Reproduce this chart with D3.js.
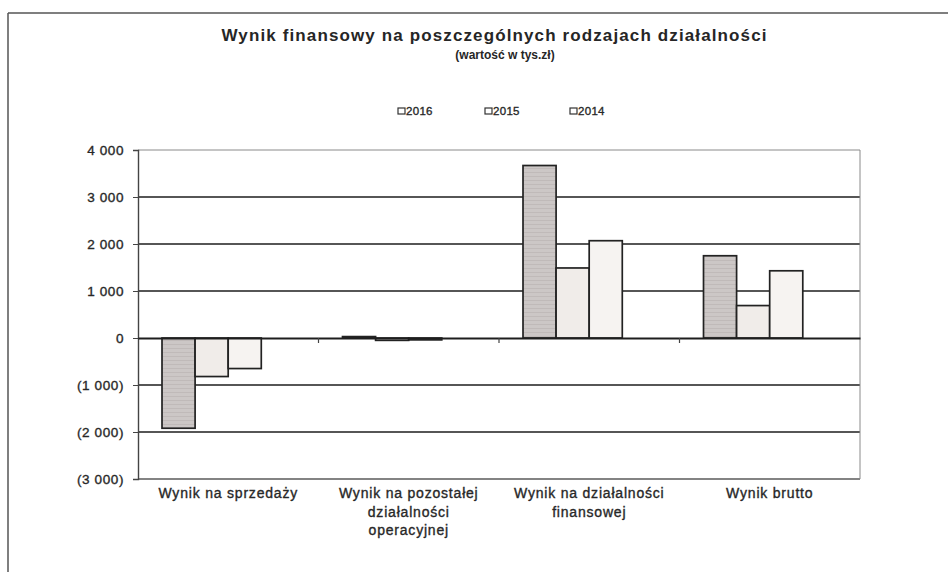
<!DOCTYPE html>
<html>
<head>
<meta charset="utf-8">
<script src="https://cdn.jsdelivr.net/npm/d3@7"></script>
<style>
  body { margin: 0; background: #fff; }
  text { font-family: "Liberation Sans", Arial, sans-serif; fill: #262626; }
  .heavy { stroke: #2a2a2a; stroke-width: 0.35px; }
</style>
</head>
<body>
<svg id="chart" width="948" height="572"></svg>
<script>
var width = 948
var height = 572

// data (tys. zł)
var categories = ["Wynik na sprzedaży", "Wynik na pozostałej działalności operacyjnej", "Wynik na działalności finansowej", "Wynik brutto"];
var categoryLines = [["Wynik na sprzedaży"], ["Wynik na pozostałej", "działalności", "operacyjnej"], ["Wynik na działalności", "finansowej"], ["Wynik brutto"]];
var years = ["2016", "2015", "2014"];
var values2016 = [-1920, 30, 3670, 1750];
var values2015 = [-820, -50, 1490, 690];
var values2014 = [-650, -40, 2070, 1430];
var yTicks = [4000, 3000, 2000, 1000, 0, -1000, -2000, -3000];

var seriesValues = { "2016": values2016, "2015": values2015, "2014": values2014 };
var fills = { "2016": "url(#hatch2016)", "2015": "#f0ece9", "2014": "#f6f3f1" };

var svg = d3.select('#chart');

// hatch for the 2016 bars (scan shows faint horizontal lines)
var pat = svg.append("defs").append("pattern")
    .attr("id", "hatch2016")
    .attr("patternUnits", "userSpaceOnUse")
    .attr("width", 6).attr("height", 4);
pat.append("rect").attr("width", 6).attr("height", 4).attr("fill", "#ccc7c6");
pat.append("line").attr("x1", 0).attr("x2", 6).attr("y1", 0.5).attr("y2", 0.5)
    .attr("stroke", "#c0bab9").attr("stroke-width", 1);

// page frame (top + left only)
svg.append("line").attr("x1", 8).attr("x2", width).attr("y1", 13).attr("y2", 13)
    .attr("stroke", "#555").attr("stroke-width", 1.5);
svg.append("line").attr("x1", 8).attr("x2", 8).attr("y1", 13).attr("y2", height)
    .attr("stroke", "#555").attr("stroke-width", 1.5);

var plotLeft = 138, plotRight = 860, plotTop = 150, plotBottom = 479;

var y = d3.scaleLinear().domain([-3000, 4000]).range([plotBottom, plotTop]);
var x0 = d3.scaleBand().domain(categories).range([plotLeft, plotRight]).padding(0);
var bw = x0.bandwidth();
// excel leaves room for a 4th (empty) slot, so the group sits left of centre
var x1 = d3.scaleBand().domain(years).range([bw * 0.133, bw * 0.133 + bw * 0.55]).padding(0);

// gridlines
svg.selectAll(".grid")
    .data(yTicks.filter(function(d) { return d != 0; }))
    .enter().append("line")
        .attr("class", "grid")
        .attr("x1", plotLeft).attr("x2", plotRight)
        .attr("y1", function(d) { return y(d); })
        .attr("y2", function(d) { return y(d); })
        .attr("stroke", function(d) {
                if (d == 4000) return "#8a8a8a";
                if (d == -3000) return "#5a5a5a";
                return "#1e1e1e";
            })
        .attr("stroke-width", function(d) { return (d == 4000) ? 1 : 1.5; });

// right border of plot area
svg.append("line").attr("x1", plotRight).attr("x2", plotRight).attr("y1", plotTop).attr("y2", plotBottom)
    .attr("stroke", "#8a8a8a").attr("stroke-width", 1);

// bars
var groups = svg.selectAll(".cat")
    .data(categories)
    .enter().append("g")
        .attr("class", "cat")
        .attr("transform", function(d) { return "translate(" + x0(d) + ",0)"; });

groups.selectAll("rect")
    .data(function(d, i) { return years.map(function(yr) { return { year: yr, value: seriesValues[yr][i] }; }); })
    .enter().append("rect")
        .attr("x", function(d) { return x1(d.year); })
        .attr("width", x1.bandwidth())
        .attr("y", function(d) { return y(Math.max(0, d.value)); })
        .attr("height", function(d) { return Math.abs(y(d.value) - y(0)); })
        .attr("fill", function(d) { return fills[d.year]; })
        .attr("stroke", "#222")
        .attr("stroke-width", 1.7);

// y axis
var fmt = function(d) {
    var s = d3.format(",")(Math.abs(d)).replace(",", " ");
    return d < 0 ? "(" + s + ")" : s;
};
var yAxis = svg.append("g")
    .attr("transform", "translate(" + plotLeft + ",0)")
    .call(d3.axisLeft(y).tickValues(yTicks).tickFormat(fmt).tickSize(5).tickPadding(9));
yAxis.select(".domain").attr("stroke", "#444").attr("stroke-width", 1.4);
yAxis.selectAll(".tick line").attr("stroke", "#444");
yAxis.selectAll("text")
    .attr("class", "heavy")
    .attr("font-size", 13.5)
    .attr("letter-spacing", 0.6)
    .attr("fill", "#262626")
    .style("font-family", '"Liberation Sans", Arial, sans-serif');

// zero line with category dividers
var xAxis = svg.append("g")
    .attr("transform", "translate(0," + y(0) + ")")
    .call(d3.axisBottom(x0).tickSize(0).tickFormat(""));
xAxis.select(".domain").attr("stroke", "#1e1e1e").attr("stroke-width", 1.9);
xAxis.selectAll(".divider")
    .data(categories.slice(1))
    .enter().append("line")
        .attr("class", "divider")
        .attr("x1", function(d) { return x0(d); })
        .attr("x2", function(d) { return x0(d); })
        .attr("y1", 0).attr("y2", 5)
        .attr("stroke", "#444").attr("stroke-width", 1.2);

// category labels
categories.forEach(function(c, i) {
    var t = svg.append("text")
        .attr("class", "heavy")
        .attr("x", x0(c) + bw / 2)
        .attr("y", 498)
        .attr("text-anchor", "middle")
        .attr("font-size", 14)
        .attr("letter-spacing", 0.8);
    categoryLines[i].forEach(function(line, j) {
        t.append("tspan")
            .attr("x", x0(c) + bw / 2)
            .attr("dy", j == 0 ? 0 : 18.5)
            .text(line);
    });
});

// title
svg.append("text")
    .attr("x", 494).attr("y", 41)
    .attr("text-anchor", "middle")
    .attr("font-size", 17)
    .attr("font-weight", "bold")
    .attr("textLength", 545)
    .attr("lengthAdjust", "spacing")
    .text("Wynik finansowy na poszczególnych rodzajach działalności");
svg.append("text")
    .attr("x", 505).attr("y", 59)
    .attr("text-anchor", "middle")
    .attr("font-size", 12)
    .attr("font-weight", "bold")
    .text("(wartość w tys.zł)");

// legend
var legendX = [398, 485, 570];
years.forEach(function(yr, i) {
    svg.append("rect")
        .attr("x", legendX[i]).attr("y", 108)
        .attr("width", 7).attr("height", 6)
        .attr("fill", "#fff")
        .attr("stroke", "#333").attr("stroke-width", 1.2);
    svg.append("text")
        .attr("class", "heavy")
        .attr("x", legendX[i] + 8).attr("y", 115)
        .attr("font-size", 11.5)
        .attr("letter-spacing", 0.3)
        .text(yr);
});
</script>
</body>
</html>
